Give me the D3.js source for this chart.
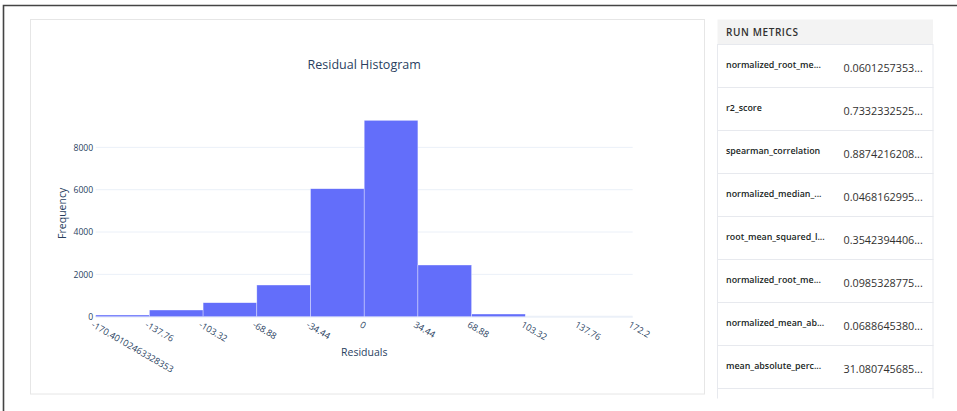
<!DOCTYPE html>
<html>
<head>
<meta charset="utf-8">
<script src="https://cdn.jsdelivr.net/npm/d3@7"></script>
<style>
html,body{margin:0;padding:0;background:#fff;}
svg{display:block;}
</style>
</head>
<body>
<svg id="c" width="957" height="411"></svg>
<script>
// ---- data ----
const binEdgeLabels = ["-170.40102463328353","-137.76","-103.32","-68.88","-34.44","0","34.44","68.88","103.32","137.76","172.2"];
const binCounts = [80, 316, 661, 1497, 6046, 9277, 2442, 127, 0, 0];
const yTicks = [0, 2000, 4000, 6000, 8000];
const chartTitle = "Residual Histogram";
const xTitle = "Residuals";
const yTitle = "Frequency";
const metricNames = ["normalized_root_me...","r2_score","spearman_correlation","normalized_median_...","root_mean_squared_l...","normalized_root_me...","normalized_mean_ab...","mean_absolute_perc...",""];
const metricValues = ["0.0601257353...","0.7332332525...","0.8874216208...","0.0468162995...","0.3542394406...","0.0985328775...","0.0688645380...","31.080745685...",""];

const svg = d3.select("#c");
const font = "'Open Sans', 'Noto Sans', sans-serif";

// outer frame
svg.append("path").attr("d","M3.5,411 V5.5 H957").attr("fill","none").attr("stroke","#444").attr("stroke-width",1.6);

// chart panel
svg.append("rect").attr("x",30.5).attr("y",19.5).attr("width",674).attr("height",374.5)
  .attr("fill","#fff").attr("stroke","#e6e6e6").attr("stroke-width",1);

const L = 95.7, R = 632.7, T = 110, B = 316.7;
const x = d3.scaleLinear().domain([0, binCounts.length]).range([L, R]);
const y = d3.scaleLinear().domain([0, 9765]).range([B, T]);

// gridlines
svg.append("g").selectAll("line").data(yTicks.filter(d=>d>0)).join("line")
  .attr("x1",L).attr("x2",R).attr("y1",d=>y(d)).attr("y2",d=>y(d))
  .attr("stroke","#ebf0f8").attr("stroke-width",1);
// zero line
svg.append("line").attr("x1",L).attr("x2",R).attr("y1",y(0)).attr("y2",y(0))
  .attr("stroke","#ebf0f8").attr("stroke-width",2);

// bars
svg.append("g").selectAll("rect").data(binCounts).join("rect")
  .attr("x",(d,i)=>x(i)).attr("width",(d,i)=>x(i+1)-x(i))
  .attr("y",d=>y(d)).attr("height",d=>y(0)-y(d))
  .attr("fill","#636efa").attr("stroke","#ffffff").attr("stroke-width",0.6).attr("stroke-opacity",0.6);

// y axis labels
const yAxis = d3.axisLeft(y).tickValues(yTicks).tickSize(0).tickPadding(2).tickFormat(d3.format("d"));
const gy = svg.append("g").attr("transform",`translate(${L-0.5},0)`).call(yAxis);
gy.select(".domain").remove();
gy.selectAll("text").attr("font-family",font).attr("font-size",8.6).attr("fill","#2a3f5f");

// x axis labels
const xAxis = d3.axisBottom(x).tickValues(d3.range(binEdgeLabels.length)).tickSize(0).tickFormat(i=>binEdgeLabels[i]);
const gx = svg.append("g").attr("transform",`translate(0,${B})`).call(xAxis);
gx.select(".domain").remove();
gx.selectAll("text").attr("font-family",font).attr("font-size",9).attr("fill","#2a3f5f")
  .attr("text-anchor","start").attr("y",0).attr("dy","0.75em")
  .attr("transform","translate(-2,4) rotate(30)");

// titles
svg.append("text").attr("x",(L+R)/2).attr("y",69).attr("text-anchor","middle")
  .attr("font-family",font).attr("font-size",12.5).attr("fill","#2a3f5f").text(chartTitle);
svg.append("text").attr("x",(L+R)/2).attr("y",356).attr("text-anchor","middle")
  .attr("font-family",font).attr("font-size",10.5).attr("fill","#2a3f5f").text(xTitle);
svg.append("text").attr("transform",`translate(66,${(T+B)/2}) rotate(-90)`).attr("text-anchor","middle")
  .attr("font-family",font).attr("font-size",10.5).attr("fill","#2a3f5f").text(yTitle);

// metrics panel
const mp = svg.append("g");
const clip = svg.append("clipPath").attr("id","mclip");
clip.append("rect").attr("x",700).attr("y",0).attr("width",257).attr("height",398.5);
const mg = mp.attr("clip-path","url(#mclip)");
mg.append("rect").attr("x",717.5).attr("y",19.5).attr("width",215.5).attr("height",25)
  .attr("fill","#f3f3f3");
mg.append("text").attr("x",726).attr("y",36).attr("font-family",font).attr("font-size",10)
  .attr("font-weight",600).attr("letter-spacing",0.6).attr("fill","#323130").text("RUN METRICS");
const rowH = 43, rowTop = 44.5;
const rows = mg.selectAll("g.row").data(metricNames).join("g").attr("class","row")
  .attr("transform",(d,i)=>`translate(0,${rowTop + i*rowH})`);
rows.append("rect").attr("x",717.5).attr("y",0).attr("width",215.5).attr("height",rowH)
  .attr("fill","#fff").attr("stroke","#e7e9ee").attr("stroke-width",1);
rows.append("text").attr("x",726).attr("y",23.5).attr("font-family",font).attr("font-size",8.9)
  .attr("font-weight",600).attr("fill","#201f1e").text(d=>d);
rows.append("text").attr("x",843.5).attr("y",27).attr("font-family",font).attr("font-size",10.8)
  .attr("fill","#323130").text((d,i)=>metricValues[i]);
</script>
</body>
</html>
